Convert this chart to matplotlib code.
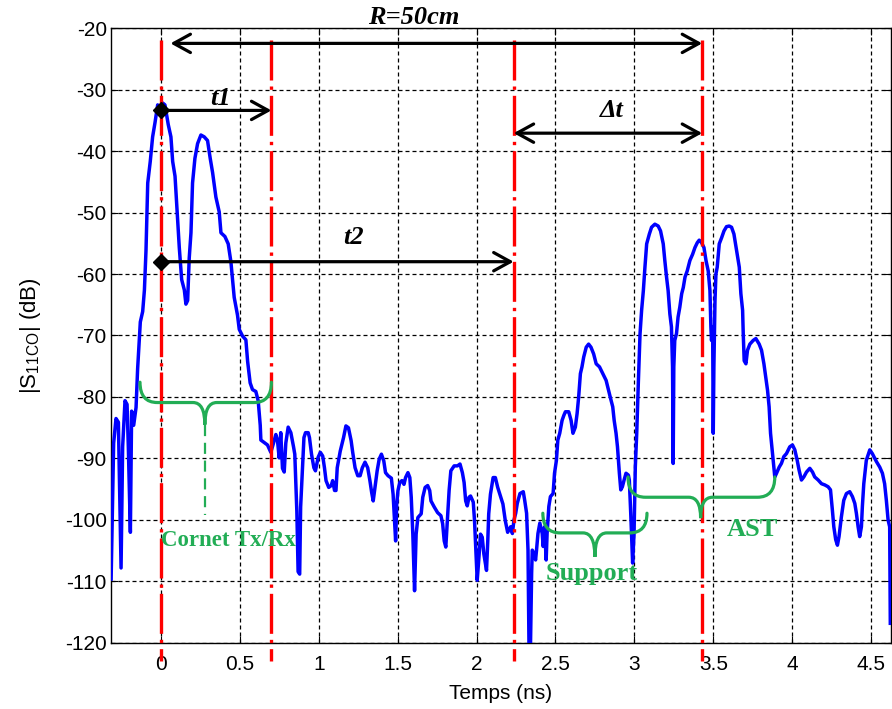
import matplotlib
matplotlib.use('Agg')  # sin display
import matplotlib.pyplot as plt
from matplotlib.path import Path
from matplotlib.patches import PathPatch

plt.rcParams['font.family'] = ['Liberation Sans', 'DejaVu Sans']
plt.rcParams['axes.unicode_minus'] = False
plt.rcParams['mathtext.default'] = 'regular'

# ===================== DATOS =====================

T_NS = [
    -0.316, -0.300, -0.285, -0.270, -0.253, -0.243, -0.228, -0.215, -0.207, -0.194,
    -0.186, -0.173, -0.158, -0.148, -0.131, -0.116, -0.105, -0.095, -0.084, -0.068,
    -0.053, -0.038, -0.021, -0.004, 0.011, 0.025, 0.046, 0.063, 0.074, 0.089,
    0.101, 0.116, 0.131, 0.148, 0.158, 0.169, 0.179, 0.190, 0.200, 0.215,
    0.232, 0.253, 0.274, 0.295, 0.312, 0.327, 0.348, 0.369, 0.380, 0.405,
    0.426, 0.443, 0.464, 0.485, 0.496, 0.517, 0.538, 0.549, 0.565, 0.580,
    0.601, 0.616, 0.629, 0.633, 0.675, 0.696, 0.713, 0.728, 0.738, 0.749,
    0.759, 0.770, 0.781, 0.791, 0.806, 0.823, 0.840, 0.848, 0.861, 0.869,
    0.879, 0.885, 0.895, 0.906, 0.916, 0.933, 0.941, 0.954, 0.969, 0.979,
    0.996, 1.010, 1.025, 1.036, 1.046, 1.063, 1.079, 1.088, 1.100, 1.109,
    1.117, 1.136, 1.157, 1.172, 1.188, 1.205, 1.215, 1.230, 1.247, 1.262,
    1.276, 1.293, 1.310, 1.324, 1.335, 1.345, 1.356, 1.370, 1.383, 1.397,
    1.412, 1.423, 1.439, 1.460, 1.471, 1.481, 1.487, 1.494, 1.502, 1.513,
    1.527, 1.540, 1.550, 1.565, 1.577, 1.586, 1.596, 1.607, 1.617, 1.628,
    1.649, 1.659, 1.674, 1.690, 1.703, 1.711, 1.732, 1.753, 1.774, 1.785,
    1.795, 1.805, 1.816, 1.826, 1.837, 1.858, 1.879, 1.895, 1.910, 1.921,
    1.931, 1.941, 1.952, 1.962, 1.979, 1.987, 1.998, 2.004, 2.015, 2.025,
    2.036, 2.046, 2.063, 2.071, 2.077, 2.088, 2.105, 2.119, 2.134, 2.151,
    2.167, 2.182, 2.197, 2.216, 2.227, 2.237, 2.248, 2.258, 2.275, 2.296,
    2.305, 2.317, 2.326, 2.332, 2.342, 2.349, 2.353, 2.363, 2.374, 2.380,
    2.389, 2.401, 2.416, 2.422, 2.431, 2.441, 2.447, 2.458, 2.468, 2.485,
    2.494, 2.506, 2.515, 2.527, 2.542, 2.553, 2.563, 2.584, 2.599, 2.611,
    2.626, 2.637, 2.647, 2.658, 2.668, 2.679, 2.695, 2.710, 2.725, 2.742,
    2.758, 2.779, 2.800, 2.821, 2.836, 2.847, 2.863, 2.872, 2.884, 2.893,
    2.905, 2.914, 2.924, 2.935, 2.947, 2.962, 2.968, 2.977, 2.989, 2.998,
    3.006, 3.015, 3.025, 3.036, 3.046, 3.057, 3.067, 3.078, 3.095, 3.109,
    3.130, 3.151, 3.166, 3.183, 3.193, 3.204, 3.214, 3.225, 3.235, 3.242,
    3.246, 3.250, 3.256, 3.267, 3.277, 3.288, 3.300, 3.310, 3.321, 3.335,
    3.352, 3.369, 3.384, 3.399, 3.411, 3.426, 3.441, 3.454, 3.468, 3.479,
    3.485, 3.489, 3.496, 3.500, 3.504, 3.511, 3.517, 3.525, 3.538, 3.553,
    3.568, 3.584, 3.601, 3.616, 3.631, 3.648, 3.665, 3.675, 3.686, 3.690,
    3.696, 3.707, 3.717, 3.732, 3.753, 3.770, 3.791, 3.806, 3.821, 3.833,
    3.844, 3.854, 3.863, 3.876, 3.884, 3.890, 3.901, 3.918, 3.932, 3.947,
    3.964, 3.985, 4.002, 4.017, 4.032, 4.044, 4.059, 4.074, 4.091, 4.112,
    4.129, 4.143, 4.165, 4.186, 4.207, 4.228, 4.243, 4.255, 4.264, 4.276,
    4.287, 4.297, 4.312, 4.327, 4.344, 4.365, 4.382, 4.397, 4.407, 4.418,
    4.428, 4.439, 4.445, 4.454, 4.470, 4.492, 4.508, 4.534, 4.555, 4.572,
    4.586, 4.597, 4.608, 4.618, 4.622,
]

S11_DB = [
    -109.6, -87.5, -83.5, -84.1, -107.8, -88.1, -80.6, -81.2, -88.1, -102.0,
    -82.3, -84.6, -81.7, -75.4, -67.8, -66.1, -62.6, -56.2, -45.2, -41.7,
    -37.7, -35.4, -32.5, -33.6, -32.2, -32.5, -35.7, -37.7, -41.7, -44.1,
    -49.3, -55.7, -60.9, -62.6, -64.9, -64.3, -57.4, -53.3, -45.2, -41.2,
    -38.8, -37.4, -37.7, -38.3, -41.2, -43.5, -47.5, -49.9, -53.3, -53.9,
    -55.1, -58.0, -63.8, -66.7, -69.0, -70.1, -70.7, -74.2, -77.7, -78.8,
    -79.1, -80.6, -84.6, -87.0, -87.8, -89.0, -87.5, -86.1, -87.0, -89.9,
    -85.8, -91.6, -92.2, -87.5, -84.9, -85.8, -88.1, -89.3, -98.6, -108.4,
    -108.8, -97.9, -92.5, -86.6, -85.8, -85.8, -86.6, -89.3, -91.5, -92.0,
    -89.8, -89.0, -89.6, -91.5, -93.6, -94.7, -94.4, -93.6, -95.2, -95.2,
    -91.5, -88.8, -86.6, -84.7, -85.0, -87.1, -89.0, -91.5, -92.8, -92.8,
    -91.5, -90.6, -91.5, -93.6, -95.5, -96.9, -94.7, -92.0, -90.1, -89.3,
    -90.4, -92.3, -92.8, -93.2, -95.8, -100.6, -103.4, -97.4, -95.2, -93.9,
    -93.6, -94.2, -93.1, -92.3, -93.1, -96.3, -102.3, -111.5, -102.3, -99.6,
    -99.0, -96.3, -94.7, -94.4, -95.2, -96.9, -97.9, -98.8, -99.3, -100.6,
    -103.4, -104.4, -99.6, -95.2, -92.0, -91.2, -91.2, -90.9, -92.3, -93.9,
    -96.9, -97.7, -96.3, -96.1, -97.1, -100.1, -106.6, -109.8, -106.1, -102.3,
    -102.8, -105.5, -108.2, -103.4, -99.0, -95.8, -93.1, -93.1, -94.7, -96.1,
    -97.4, -100.1, -102.0, -101.1, -102.2, -100.0, -98.9, -97.3, -95.7, -95.4,
    -96.8, -98.9, -104.9, -120.0, -120.0, -108.6, -104.9, -105.4, -106.5, -104.9,
    -102.2, -100.5, -102.2, -104.3, -101.1, -106.5, -102.2, -97.8, -96.2, -95.7,
    -92.4, -90.3, -87.0, -85.9, -83.8, -83.0, -82.4, -82.4, -83.8, -85.9,
    -84.9, -82.7, -80.0, -76.2, -75.1, -73.5, -71.9, -71.4, -71.9, -73.0,
    -74.6, -75.1, -76.2, -77.3, -78.9, -80.0, -81.6, -83.8, -85.9, -88.1,
    -92.4, -95.1, -94.6, -93.5, -92.4, -92.7, -93.5, -98.9, -107.0, -102.2,
    -91.4, -85.9, -77.8, -69.7, -65.9, -62.7, -58.9, -55.1, -53.5, -52.4,
    -51.9, -52.2, -53.0, -55.1, -57.8, -60.5, -62.7, -66.5, -68.6, -75.1,
    -90.8, -75.1, -70.8, -69.7, -67.0, -65.4, -63.2, -62.2, -60.5, -59.5,
    -57.8, -56.8, -55.7, -54.9, -54.5, -54.9, -55.7, -57.8, -59.5, -62.7,
    -68.6, -70.8, -68.6, -85.9, -75.1, -64.3, -60.0, -58.9, -55.1, -54.1,
    -53.0, -52.3, -52.2, -52.4, -53.5, -56.2, -58.9, -63.2, -65.9, -69.7,
    -74.1, -74.6, -72.4, -71.4, -70.8, -70.5, -71.4, -72.4, -74.6, -76.8,
    -78.9, -81.6, -85.9, -89.2, -91.4, -93.0, -92.4, -91.4, -90.8, -89.7,
    -89.2, -88.1, -87.8, -88.6, -90.3, -91.9, -93.5, -93.0, -92.2, -91.6,
    -92.2, -93.0, -93.5, -94.1, -94.3, -94.6, -95.1, -98.4, -101.1, -103.2,
    -104.1, -102.7, -99.5, -96.8, -95.7, -95.4, -96.2, -97.3, -98.9, -101.1,
    -102.7, -101.1, -97.8, -94.1, -90.3, -88.6, -89.2, -90.5, -91.4, -92.4,
    -94.1, -96.8, -100.0, -101.1, -116.8,
]

X_TICKS = [0, 0.5, 1, 1.5, 2, 2.5, 3, 3.5, 4, 4.5]
X_TICK_LABELS = ['0', '0.5', '1', '1.5', '2', '2.5', '3', '3.5', '4', '4.5']
Y_TICKS = [-120, -110, -100, -90, -80, -70, -60, -50, -40, -30, -20]
Y_TICK_LABELS = [str(v) for v in Y_TICKS]

# instantes marcados (lineas rojas): emision, fin cornet, support, AST
T_MARCAS = [0.0, 0.70, 2.235, 3.43]

# flechas de tiempo (x inicio, x fin, y)
FLECHA_R = (0.06, 3.43, -22.5)
FLECHA_T1 = (0.0, 0.70, -33.4)
FLECHA_T2 = (0.0, 2.235, -58.0)
FLECHA_DT = (2.235, 3.43, -37.1)

# llaves verdes: (x izq, x der, x punta, y extremos, y plano, y punta)
LLAVE_CORNET = (-0.133, 0.70, 0.278, -77.6, -80.9, -84.5)
LLAVE_SUPPORT = (2.42, 3.08, 2.75, -98.9, -102.1, -106.0)
LLAVE_AST = (2.96, 3.89, 3.42, -93.0, -96.3, -99.7)

AZUL = '#0000ff'
ROJO = '#ff0000'
VERDE = '#22ad55'


def llave(ax, x0, x1, xm, y_end, y_flat, y_tip, r=0.11, r2=0.075):
    """Dibuja una llave horizontal con la punta en (xm, y_tip)."""
    verts = [
        (x0, y_end), (x0, y_flat), (x0 + r, y_flat),
        (xm - r2, y_flat),
        (xm, y_flat), (xm, y_tip),
        (xm, y_flat), (xm + r2, y_flat),
        (x1 - r, y_flat),
        (x1, y_flat), (x1, y_end),
    ]
    codes = [Path.MOVETO, Path.CURVE3, Path.CURVE3, Path.LINETO,
             Path.CURVE3, Path.CURVE3, Path.CURVE3, Path.CURVE3,
             Path.LINETO, Path.CURVE3, Path.CURVE3]
    ax.add_patch(PathPatch(Path(verts, codes), fill=False, edgecolor=VERDE,
                           lw=2.3, zorder=6, capstyle='round'))


def flecha(ax, x0, x1, y, estilo):
    ax.annotate('', xy=(x1, y), xytext=(x0, y),
                arrowprops=dict(arrowstyle=f'{estilo},head_length=0.6,head_width=0.33',
                                lw=2.3, color='black', shrinkA=0, shrinkB=0,
                                mutation_scale=20),
                annotation_clip=False, zorder=7)


fig = plt.figure(figsize=(8.92, 7.09), dpi=100)
ax = fig.add_axes([0.1244, 0.0931, 0.8744, 0.8674])

ax.plot(T_NS, S11_DB, color=AZUL, lw=2.5, solid_joinstyle='round', zorder=3)

dash_dot = (0, (12, 1.8, 1.0, 1.8))
for t in T_MARCAS:
    ax.plot([t, t], [-22.0, -123.0], color=ROJO, lw=2.4, linestyle=dash_dot,
            clip_on=False, zorder=5)

flecha(ax, FLECHA_R[0], FLECHA_R[1], FLECHA_R[2], '<->')
flecha(ax, FLECHA_T1[0], FLECHA_T1[1], FLECHA_T1[2], '->')
flecha(ax, FLECHA_T2[0], FLECHA_T2[1], FLECHA_T2[2], '->')
flecha(ax, FLECHA_DT[0], FLECHA_DT[1], FLECHA_DT[2], '<->')
ax.plot([FLECHA_T1[0], FLECHA_T2[0]], [FLECHA_T1[2], FLECHA_T2[2]], 'D',
        color='black', ms=8, zorder=8)

anot = dict(fontfamily='Liberation Serif', fontweight='bold', fontstyle='italic',
            fontsize=19, ha='center', va='center', zorder=9)
ax.text(1.60, -18.3, 'R=50cm', **anot)
ax.text(0.38, -31.4, 't1', **anot)
ax.text(1.22, -54.0, 't2', **anot)
ax.text(2.855, -33.4, '\u0394t', **anot)

for ll in (LLAVE_CORNET, LLAVE_SUPPORT, LLAVE_AST):
    llave(ax, *ll)
ax.plot([LLAVE_CORNET[2], LLAVE_CORNET[2]], [LLAVE_CORNET[5], -99.2],
        color=VERDE, lw=1.6, linestyle=(0, (5, 3)), zorder=6)

verde_txt = dict(fontfamily='Liberation Serif', fontweight='bold', color=VERDE,
                 ha='center', va='baseline', zorder=9)
ax.text(0.43, -104.2, 'Cornet Tx/Rx', fontsize=16.5, **verde_txt)
ax.text(2.73, -109.8, 'Support', fontsize=19, **verde_txt)
ax.text(3.75, -102.6, 'AST', fontsize=19, **verde_txt)

ax.set_xlim(-0.317, 4.626)
ax.set_ylim(-120, -20)
ax.set_xticks(X_TICKS)
ax.set_xticklabels(X_TICK_LABELS)
ax.set_yticks(Y_TICKS)
ax.set_yticklabels(Y_TICK_LABELS)
ax.tick_params(direction='in', top=True, right=True, labelsize=15,
               length=5, width=0.8)
ax.tick_params(axis='x', pad=9)
ax.tick_params(axis='y', pad=3)
ax.grid(True, color='black', linestyle=(0, (3.2, 2.4)), lw=0.9)
for sp in ax.spines.values():
    sp.set_linewidth(1.0)

ax.set_xlabel('Temps (ns)', fontsize=15, labelpad=7)
ax.set_ylabel('|S$_{11CO}$| (dB)', fontsize=16, labelpad=16)

fig.savefig('out.png', dpi=100)
